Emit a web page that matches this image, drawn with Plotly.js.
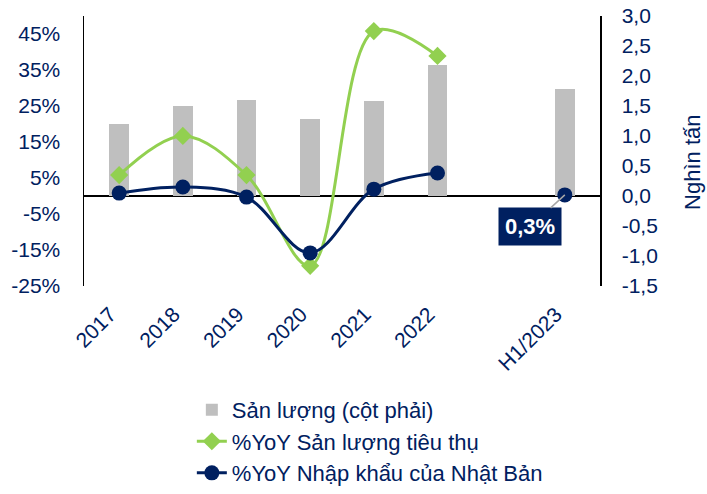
<!DOCTYPE html>
<html>
<head>
<meta charset="utf-8">
<script src="https://cdn.plot.ly/plotly-3.0.1.min.js"></script>
<style>html,body{margin:0;padding:0;background:#fff;}#chart{width:707px;height:494px;}</style>
</head>
<body>
<div id="chart"></div>
<script>
const categories = ['2017', '2018', '2019', '2020', '2021', '2022', ' ', 'H1/2023'];
const barCategories = ['2017', '2018', '2019', '2020', '2021', '2022', 'H1/2023'];
const sanLuong = [1.2, 1.5, 1.6, 1.28, 1.58, 2.18, 1.78];
const yoyTieuThu = [5.8, 16.7, 5.8, -19.4, 45.8, 38.9, null, null];
const yoyNhapKhau = [0.8, 2.5, -0.3, -15.8, 1.9, 6.4, null, 0.3];
const leftTickVals = [-25, -15, -5, 5, 15, 25, 35, 45];
const leftTickText = ['-25%', '-15%', '-5%', '5%', '15%', '25%', '35%', '45%'];
const rightTickVals = [-1.5, -1.0, -0.5, 0, 0.5, 1.0, 1.5, 2.0, 2.5, 3.0];
const rightTickText = ['-1,5', '-1,0', '-0,5', '0,0', '0,5', '1,0', '1,5', '2,0', '2,5', '3,0'];
const labelH1 = '0,3%';

const navy = '#002060';
const green = '#92D050';
const gray = '#BFBFBF';
const font = 'Arial, "Liberation Sans", sans-serif';

const traces = [
  {
    type: 'bar', name: 'Sản lượng (cột phải)', x: barCategories, y: sanLuong,
    yaxis: 'y', marker: {color: gray}, width: 0.31
  },
  {
    type: 'scatter', mode: 'lines+markers', name: '%YoY Sản lượng tiêu thụ',
    x: categories, y: yoyTieuThu, yaxis: 'y2', connectgaps: false,
    line: {color: green, width: 3, shape: 'spline', smoothing: 1},
    marker: {symbol: 'diamond', size: 14, color: green}
  },
  {
    type: 'scatter', mode: 'lines+markers', name: '%YoY Nhập khẩu của Nhật Bản',
    x: categories, y: yoyNhapKhau, yaxis: 'y2', connectgaps: false,
    line: {color: navy, width: 3, shape: 'spline', smoothing: 1},
    marker: {symbol: 'circle', size: 15, color: navy}
  }
];

const layout = {
  width: 707, height: 494,
  margin: {l: 84, r: 107, t: 16, b: 208, autoexpand: false},
  paper_bgcolor: '#fff', plot_bgcolor: '#fff',
  font: {family: font, color: navy, size: 21},
  showlegend: true,
  bargap: 0,
  xaxis: {
    type: 'category', categoryorder: 'array', categoryarray: categories,
    tickangle: -45, showgrid: false, zeroline: false, showline: false,
    ticks: '', ticklabelstandoff: 11, ticklabelshift: -9,
    tickfont: {size: 21, color: navy}, automargin: false
  },
  yaxis: {
    side: 'right', range: [-1.5, 3.0], tickvals: rightTickVals, ticktext: rightTickText,
    showgrid: false, zeroline: true, zerolinecolor: '#000', zerolinewidth: 1.5,
    showline: true, linecolor: '#000', linewidth: 1.5,
    ticks: '', ticklabelstandoff: 16, tickfont: {size: 21, color: navy},
    automargin: false
  },
  yaxis2: {
    overlaying: 'y', side: 'left', range: [-25, 50], tickvals: leftTickVals, ticktext: leftTickText,
    showgrid: false, zeroline: false, showline: true, linecolor: '#000', linewidth: 1.5,
    ticks: '', ticklabelstandoff: 18, tickfont: {size: 21, color: navy},
    automargin: false
  },
  legend: {
    x: 0.209, y: -0.381, xanchor: 'left', yanchor: 'top',
    font: {size: 22, color: navy}, bgcolor: 'rgba(0,0,0,0)', traceorder: 'normal'
  },
  annotations: [
    {
      x: 'H1/2023', y: 0.3, xref: 'x', yref: 'y2',
      text: '<b>' + labelH1 + '</b>', showarrow: true, arrowhead: 0, arrowwidth: 1.5,
      arrowcolor: '#A6A6A6', ax: -35, ay: 32,
      bgcolor: navy, borderpad: 6, font: {size: 22, color: '#fff', family: font}
    },
    {
      xref: 'paper', yref: 'paper', x: 1.178, y: 0.459, xanchor: 'center', yanchor: 'middle',
      text: 'Nghìn tấn', textangle: -90, showarrow: false,
      font: {size: 22, color: navy, family: font}
    }
  ]
};

Plotly.newPlot('chart', traces, layout, {displayModeBar: false, staticPlot: true});
</script>
</body>
</html>
